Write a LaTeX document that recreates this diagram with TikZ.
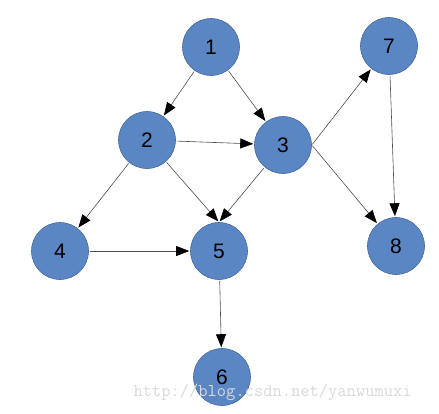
\documentclass[tikz,border=0pt]{standalone}
\usepackage{fontspec}
\setmainfont{Liberation Sans}
\usetikzlibrary{arrows.meta, positioning}
\definecolor{node_blue}{HTML}{5B86C4}
\definecolor{node_edge}{HTML}{46699E}
\tikzset{
  graph_node/.style={circle, draw=node_edge, fill=node_blue, line width=0.6pt, minimum size=57pt, inner sep=0pt, font=\fontsize{21}{24}\selectfont},
  arrow/.style={-{Triangle[length=13pt, width=10pt, black]}, black!70, line width=0.6pt, shorten >=1pt, shorten <=1pt},
  watermark/.style={text=gray!30, font=\ttfamily\fontsize{18}{20}\selectfont, anchor=west}
}

\begin{document}
\begin{tikzpicture}[x=1pt, y=-1pt]

  \useasboundingbox (0,0) rectangle (439,413);

  % Nodes
  \node[graph_node] (n1) at (211, 47) {1};
  \node[graph_node] (n2) at (147, 140) {2};
  \node[graph_node] (n3) at (283, 145) {3};
  \node[graph_node] (n4) at (60, 251) {4};
  \node[graph_node] (n5) at (219, 251) {5};
  \node[graph_node] (n6) at (222, 377) {6};
  \node[graph_node] (n7) at (389, 46) {7};
  \node[graph_node] (n8) at (396, 246) {8};

  % Edges
  \draw[arrow] (n1) -- (n2);
  \draw[arrow] (n1) -- (n3);
  \draw[arrow] (n2) -- (n3);
  \draw[arrow] (n2) -- (n5.north);
  \draw[arrow] (n2) -- (n4);
  \draw[arrow] (n3) -- (n5.north);
  \draw[arrow] (n3.east) -- (n7);
  \draw[arrow] (n3.east) -- (n8);
  \draw[arrow] (n7) -- (n8);
  \draw[arrow] (n4) -- (n5);
  \draw[arrow] (n5) -- (n6);

  \node[watermark] (mark) at (130, 392) {http://blog.csdn.net/yanwumuxi};

\end{tikzpicture}
\end{document}
